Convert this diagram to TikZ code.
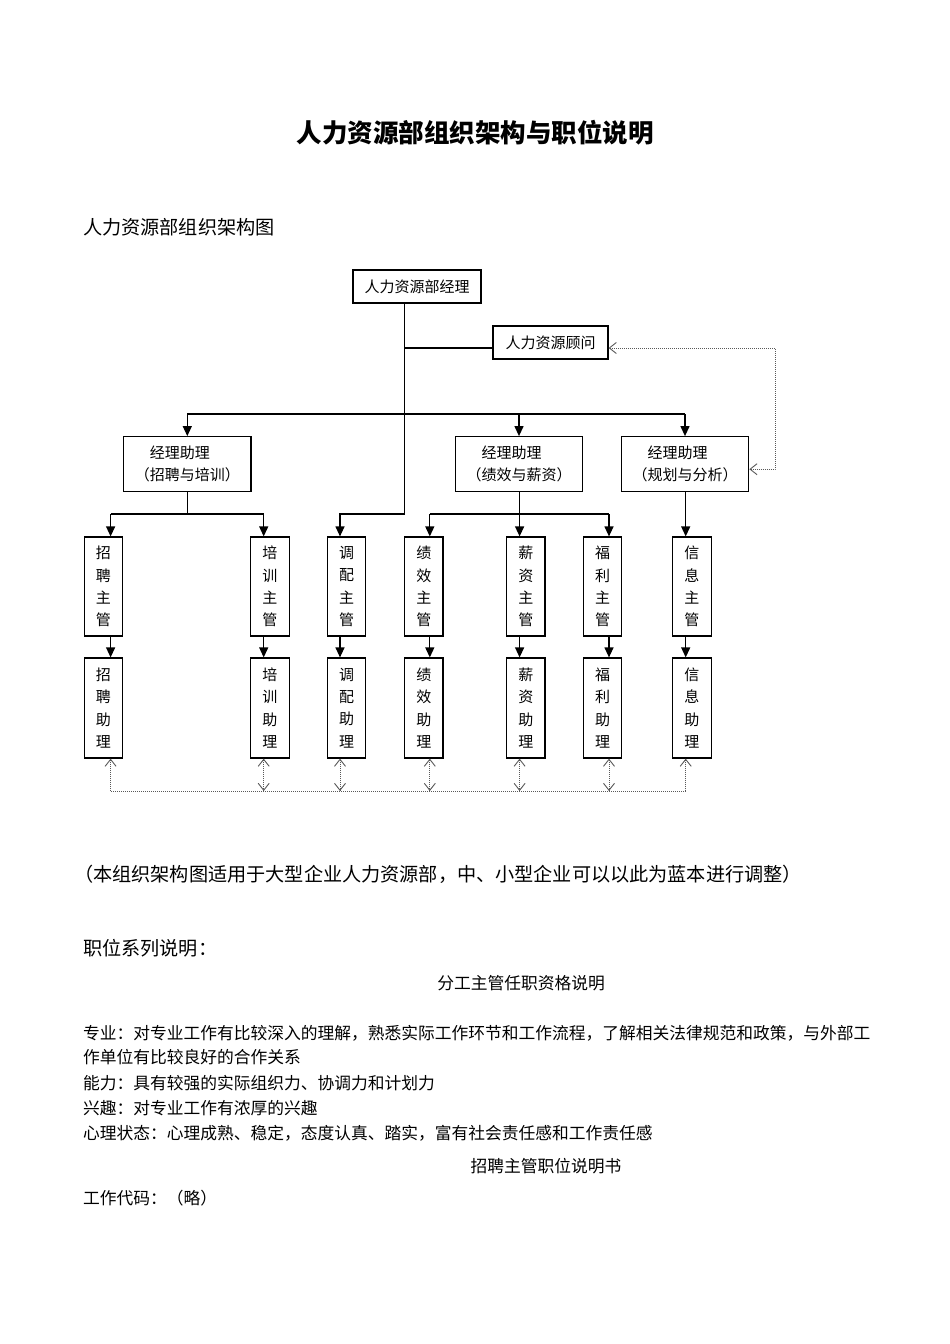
\documentclass[tikz,border=0pt]{standalone}
\usepackage{fontspec}
\setmainfont{Noto Sans CJK SC}
\usetikzlibrary{arrows.meta,calc}
\begin{document}
\begin{tikzpicture}[x=1pt,y=-1pt,
  ln/.style={line width=1.2pt,black},
  arr/.style={ln,-{Triangle[length=10pt,width=9pt]}},
  box/.style={draw,line width=1.2pt,inner sep=0pt,font=\fontsize{15}{22}\selectfont},
  vbox/.style={box,minimum width=38.5pt,align=center,font=\fontsize{15}{22.3}\selectfont},
  dotl/.style={line width=0.9pt,black!65,dash pattern=on 1pt off 1pt},
  barb/.tip={Straight Barb[length=7pt,width=11pt,line width=0.9pt]},
  body/.style={anchor=west,inner sep=0pt,font=\fontsize{16.75}{20}\selectfont},
  big/.style={anchor=west,inner sep=0pt,font=\fontsize{19.15}{22}\selectfont}]
\fill[white] (0,0) rectangle (950,1344);
\useasboundingbox (0,0) rectangle (950,1344);

% texts
\node[inner sep=0pt,font=\fontsize{25.5}{28}\selectfont\bfseries] (title) at (475,133) {人力资源部组织架构与职位说明};
\node[big] (sub) at (83,227) {人力资源部组织架构图};
\node[big] (note) at (74,874) {（本组织架构图适用于大型企业人力资源部，中、小型企业可以以此为蓝本进行调整）};
\node[big] (series) at (83,948) {职位系列说明：};
\node[body,anchor=center] (h1) at (521,983) {分工主管任职资格说明};
\node[body] (t1) at (83,1033) {专业：对专业工作有比较深入的理解，熟悉实际工作环节和工作流程，了解相关法律规范和政策，与外部工};
\node[body] (t2) at (83,1057) {作单位有比较良好的合作关系};
\node[body] (t3) at (83,1083) {能力：具有较强的实际组织力、协调力和计划力};
\node[body] (t4) at (83,1108) {兴趣：对专业工作有浓厚的兴趣};
\node[body] (t5) at (83,1133) {心理状态：心理成熟、稳定，态度认真、踏实，富有社会责任感和工作责任感};
\node[body,anchor=center] (h2) at (546,1166) {招聘主管职位说明书};
\node[body] (t6) at (83,1198) {工作代码：（略）};

% top boxes
\node[box,minimum width=128pt,minimum height=33pt] (mgr) at (417,286.5) {人力资源部经理};
\node[box,minimum width=115pt,minimum height=33pt] (adv) at (550.5,342.5) {人力资源顾问};
\node[box,minimum width=127.5pt,minimum height=55pt,align=left] (a1) at (187.3,464.2) {\hspace{1em}经理助理\\（招聘与培训）};
\node[box,minimum width=127.5pt,minimum height=55pt,align=left] (a2) at (519,464.2) {\hspace{1em}经理助理\\（绩效与薪资）};
\node[box,minimum width=127.5pt,minimum height=55pt,align=left] (a3) at (685,464.2) {\hspace{1em}经理助理\\（规划与分析）};

% column boxes
\foreach \n/\cx/\ta/\tb in {1/103.35/招/聘,2/269.85/培/训,3/346.55/调/配,4/423.75/绩/效,5/525.75/薪/资,6/602.55/福/利,7/691.95/信/息}{
  \node[vbox,minimum height=99pt] (s\n) at (\cx,586.5) {\ta\\\tb\\主\\管};
  \node[vbox,minimum height=100pt] (b\n) at (\cx,708) {\ta\\\tb\\助\\理};
}

% coordinates
\coordinate (xm) at (404.3,514);
\coordinate (x1) at (110.6,514);
\coordinate (x2) at (263.7,514);
\coordinate (x3) at (340,514);
\coordinate (x4) at (429.8,514);
\coordinate (x5) at (519.6,514);
\coordinate (x6) at (609,514);
\coordinate (x7) at (685.7,514);
\coordinate (ta1) at (187.3,414);
\coordinate (ta2) at (519,414);
\coordinate (ta3) at (685,414);
\coordinate (advin) at ($(adv.west)+(0,5.5)$);
\coordinate (advr) at ($(adv.east)+(0,5.5)$);
\coordinate (a3r) at ($(a3.east)+(0,5)$);
\coordinate (rt) at (775,348);
\coordinate (rb) at (775,469.2);
\coordinate (d1) at (110.6,791);
\coordinate (d7) at (685.7,791);

% main trunk
\draw[arr] (mgr.south -| xm) -- (xm) -| (s3.north -| x3);
\draw[ln] (advin -| xm) -- (advin);
\draw[ln] (ta1) -- (ta3);
\draw[arr] (ta1) -- (a1.north);
\draw[arr] (ta2) -- (a2.north);
\draw[arr] (ta3) -- (a3.north);

% second level
\draw[ln] (a1.south) -- (a1.south |- x1);
\draw[ln] (x1) -- (x2);
\draw[ln] (a2.south -| x5) -- (x5);
\draw[ln] (x4) -- (x6);
\foreach \n in {1,2,4,5,6}{
  \draw[arr] (x\n) -- (s\n.north -| x\n);
}
\draw[arr] (a3.south -| x7) -- (s7.north -| x7);
\foreach \n in {1,...,7}{
  \draw[arr] (s\n.south -| x\n) -- (b\n.north -| x\n);
}

% dotted relations
\draw[dotl,barb-barb] (a3r) -- (rb) -- (rt) -- (advr);
\draw[dotl,barb-barb] (b1.south -| x1) -- (d1) -- (d7) -- (b7.south -| x7);
\foreach \n in {2,3,4,5,6}{
  \draw[dotl,barb-barb] (b\n.south -| x\n) -- (d1 -| x\n);
}
\end{tikzpicture}
\end{document}
